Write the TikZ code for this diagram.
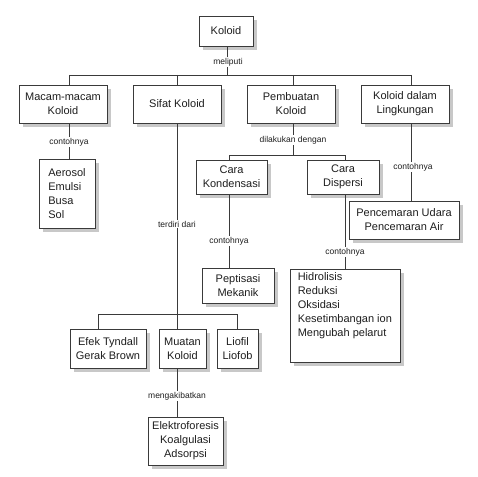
\documentclass[tikz,border=0pt]{standalone}
\usepackage{fontspec}
\setmainfont{Liberation Sans}
\usetikzlibrary{backgrounds}
\definecolor{linec}{HTML}{3A3A3A}
\definecolor{shadc}{HTML}{C8C8C8}
\definecolor{txtc}{HTML}{1E1E1E}
\tikzset{
  box/.style={draw=linec, line width=0.9pt, fill=white, inner sep=0pt, align=center,
    text=txtc, font=\fontsize{11}{14}\selectfont},
  shadowbox/.style={fill=shadc, draw=none},
  lbl/.style={fill=white, inner sep=1.2pt, text=txtc, font=\fontsize{8.5}{10}\selectfont},
  conn/.style={draw=linec, line width=0.8pt},
  plain/.style={inner sep=0pt, align=left, text=txtc, font=\fontsize{11}{14}\selectfont}
}
\begin{document}
\begin{tikzpicture}[x=1pt,y=-1pt]
\useasboundingbox (0,0) rectangle (478,476);
% coordinates of connector axes
\coordinate (xk) at (227,0);
\coordinate (xm) at (69,0);
\coordinate (xs) at (177,0);
\coordinate (xp) at (293,0);
\coordinate (xl) at (411,0);
\coordinate (xc) at (229,0);
\coordinate (xd) at (345,0);
\coordinate (xe) at (98,0);
\coordinate (xf) at (237,0);
\coordinate (bus1) at (0,75);
\coordinate (bus2) at (0,155);
\coordinate (bus3) at (0,314);

% connectors
\draw[conn] (xk |- 0,46) -- (xk |- bus1);
\draw[conn] (xm |- bus1) -- (xl |- bus1);
\foreach \c in {xm,xs,xp,xl} \draw[conn] (\c |- bus1) -- (\c |- 0,85);
\draw[conn] (xm |- 0,123) -- (xm |- 0,159);
\draw[conn] (xp |- 0,123) -- (xp |- bus2);
\draw[conn] (xc |- bus2) -- (xd |- bus2);
\draw[conn] (xc |- bus2) -- (xc |- 0,160);
\draw[conn] (xd |- bus2) -- (xd |- 0,160);
\draw[conn] (xl |- 0,123) -- (xl |- 0,201);
\draw[conn] (xc |- 0,194) -- (xc |- 0,268);
\draw[conn] (xd |- 0,194) -- (xd |- 0,269);
\draw[conn] (xs |- 0,123) -- (xs |- 0,329);
\draw[conn] (xe |- bus3) -- (xf |- bus3);
\draw[conn] (xe |- bus3) -- (xe |- 0,329);
\draw[conn] (xf |- bus3) -- (xf |- 0,329);
\draw[conn] (xs |- 0,368) -- (xs |- 0,417);

% boxes
\node[box, minimum width=54pt, minimum height=30pt] (koloid) at (226,31) {Koloid};
\node[box, minimum width=88pt, minimum height=38pt] (macam) at (63,104) {Macam-macam\\Koloid};
\node[box, minimum width=88pt, minimum height=38pt] (sifat) at (177,104) {Sifat Koloid};
\node[box, minimum width=88pt, minimum height=38pt] (pembuatan) at (291,104) {Pembuatan\\Koloid};
\node[box, minimum width=88pt, minimum height=38pt] (lingkungan) at (405,104) {Koloid dalam\\Lingkungan};
\node[box, minimum width=56pt, minimum height=69pt, align=left] (aerosol) at (67,193.5) {Aerosol\\Emulsi\\Busa\\Sol};
\node[box, minimum width=71pt, minimum height=34pt] (kondensasi) at (231.5,177) {Cara\\Kondensasi};
\node[box, minimum width=72pt, minimum height=34pt] (dispersi) at (343,177) {Cara\\Dispersi};
\node[box, minimum width=110pt, minimum height=38pt] (pencemaran) at (404,220) {Pencemaran Udara\\Pencemaran Air};
\node[box, minimum width=72pt, minimum height=35pt] (peptisasi) at (238,285.5) {Peptisasi\\Mekanik};
\node[box, minimum width=110pt, minimum height=93pt] (hidrolisis) at (345,315.5) {};
\node[plain, anchor=north west] (hidtext) at ([xshift=8pt,yshift=-4pt]hidrolisis.north west) {Hidrolisis\\Reduksi\\Oksidasi\\Kesetimbangan ion\\Mengubah pelarut};
\node[box, minimum width=76pt, minimum height=39pt] (efek) at (108,348.5) {Efek Tyndall\\Gerak Brown};
\node[box, minimum width=47pt, minimum height=39pt] (muatan) at (182.5,348.5) {Muatan\\Koloid};
\node[box, minimum width=41pt, minimum height=39pt] (liofil) at (237.5,348.5) {Liofil\\Liofob};
\node[box, minimum width=75pt, minimum height=48pt] (elektro) at (185.5,441) {Elektroforesis\\Koalgulasi\\Adsorpsi};

% drop shadows behind the boxes
\begin{scope}[on background layer]
\foreach \n in {koloid,macam,sifat,pembuatan,lingkungan,aerosol,kondensasi,dispersi,pencemaran,peptisasi,hidrolisis,efek,muatan,liofil,elektro}
  \fill[shadowbox] ([xshift=4pt,yshift=-4pt]\n.south west) rectangle ([xshift=4pt,yshift=-4pt]\n.north east);
\end{scope}

% labels
\node[lbl] (l1) at (228,62) {meliputi};
\node[lbl] (l2) at (69,142) {contohnya};
\node[lbl] (l3) at (293,140) {dilakukan dengan};
\node[lbl] (l4) at (413,167) {contohnya};
\node[lbl] (l5) at (177,224) {terdiri dari};
\node[lbl] (l6) at (229,241) {contohnya};
\node[lbl] (l7) at (345,252) {contohnya};
\node[lbl] (l8) at (177,396) {mengakibatkan};
\end{tikzpicture}
\end{document}
